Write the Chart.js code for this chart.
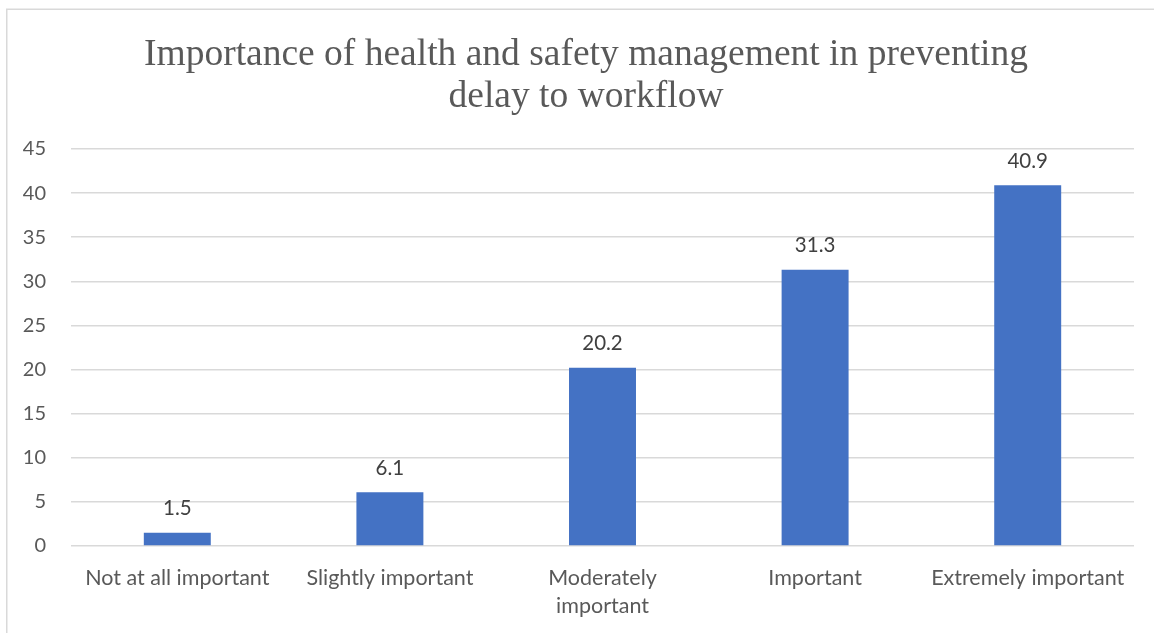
<!DOCTYPE html>
<html>
<head>
<meta charset="utf-8">
<script src="https://cdn.jsdelivr.net/npm/chart.js@4/dist/chart.umd.min.js"></script>
<style>
html,body{margin:0;padding:0;background:#fff;}
#wrap{width:1154px;height:633px;position:relative;}
</style>
</head>
<body>
<div id="wrap"><canvas id="c" width="1154" height="633"></canvas></div>
<script>
const titleLines = ["Importance of health and safety management in preventing", "delay to workflow"];
const categories = ["Not at all important", "Slightly important", ["Moderately", "important"], "Important", "Extremely important"];
const values = [1.5, 6.1, 20.2, 31.3, 40.9];
const yTicks = [0, 5, 10, 15, 20, 25, 30, 35, 40, 45];

const sansFont = "Lato, 'Open Sans', sans-serif";

const borderPlugin = {
  id: 'borderBox',
  afterLayout(chart) {
    // centre the title over the whole chart box (as in the original)
    if (chart.titleBlock) { chart.titleBlock.left += 38; }
  },
  beforeDraw(chart) {
    const ctx = chart.ctx;
    ctx.save();
    ctx.fillStyle = '#ffffff';
    ctx.fillRect(0, 0, chart.width, chart.height);
    ctx.strokeStyle = '#d9d9d9';
    ctx.lineWidth = 1.5;
    ctx.beginPath();
    ctx.moveTo(6.75, chart.height + 5);
    ctx.lineTo(6.75, 9.25);
    ctx.lineTo(chart.width + 5, 9.25);
    ctx.stroke();
    ctx.restore();
  }
};

const labelPlugin = {
  id: 'valueLabels',
  afterDatasetsDraw(chart) {
    const ctx = chart.ctx;
    const meta = chart.getDatasetMeta(0);
    ctx.save();
    ctx.font = "20.5px " + sansFont;
    ctx.fillStyle = '#404040';
    ctx.textAlign = 'center';
    ctx.textBaseline = 'middle';
    meta.data.forEach((bar, i) => {
      ctx.fillText(String(chart.data.datasets[0].data[i]), bar.x, bar.y - 24);
    });
    ctx.restore();
  }
};

new Chart(document.getElementById('c'), {
  type: 'bar',
  data: {
    labels: categories,
    datasets: [{
      data: values,
      backgroundColor: '#4472C4',
      borderWidth: 0,
      categoryPercentage: 1.0,
      barPercentage: 0.315
    }]
  },
  options: {
    responsive: false,
    animation: false,
    devicePixelRatio: 1,
    layout: { padding: { left: 0, right: 20, top: 0, bottom: 0 } },
    plugins: {
      legend: { display: false },
      tooltip: { enabled: false },
      title: {
        display: true,
        text: titleLines,
        color: '#595959',
        font: { family: "'Liberation Serif', 'Times New Roman', serif", size: 37.5, weight: 'normal', lineHeight: '42px' },
        padding: { top: 34, bottom: 31 }
      }
    },
    scales: {
      x: {
        grid: { display: false, drawTicks: false },
        border: { display: false },
        ticks: {
          color: '#595959',
          font: { family: sansFont, size: 21.5, lineHeight: '28px' },
          padding: 18,
          maxRotation: 0,
          autoSkip: false
        },
        afterFit(scale) { scale.height = 87; }
      },
      y: {
        min: 0,
        max: 45,
        afterBuildTicks(scale) { scale.ticks = yTicks.map(v => ({ value: v })); },
        grid: { color: '#d9d9d9', lineWidth: 1.5, drawTicks: false },
        border: { display: false },
        ticks: {
          color: '#595959',
          font: { family: sansFont, size: 20 },
          padding: 25
        },
        afterFit(scale) { scale.width = 71; }
      }
    }
  },
  plugins: [borderPlugin, labelPlugin]
});
</script>
</body>
</html>
